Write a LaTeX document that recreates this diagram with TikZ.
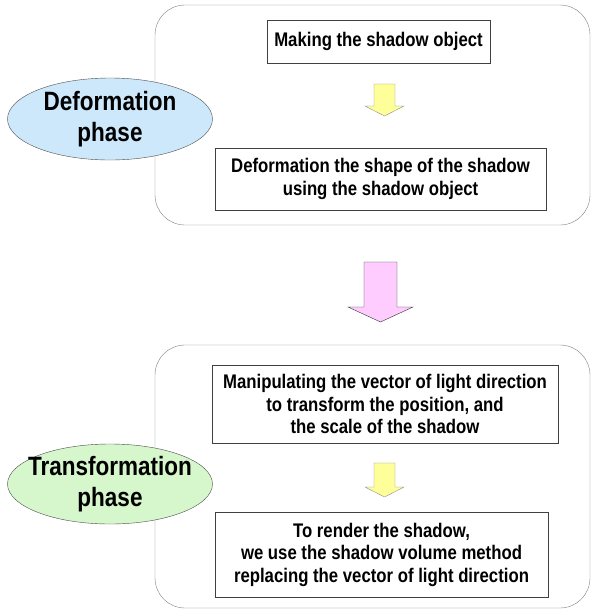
\documentclass[tikz,border=0pt]{standalone}
\usepackage{fontspec}
\setmainfont[FakeStretch=0.85]{Liberation Sans}
\usetikzlibrary{shapes.geometric}

\definecolor{phaseblue}{RGB}{204,232,250}
\definecolor{phasegreen}{RGB}{214,246,204}
\definecolor{stepyellow}{RGB}{255,255,153}
\definecolor{steppink}{RGB}{255,204,255}

\begin{document}
\begin{tikzpicture}[x=1pt,y=-1pt,
  frame/.style={draw=black!50,rounded corners=30pt},
  phase/.style={ellipse,draw=black!70,inner sep=0pt,minimum width=205pt},
  phasetext/.style={align=center,inner sep=0pt,
    font=\fontsize{26.5}{31}\selectfont\bfseries},
  stepbox/.style={draw=black!75,align=center,inner sep=0pt,
    font=\fontsize{19.7}{22.5}\selectfont\bfseries},
  smallarrow/.style={draw=black!45,fill=stepyellow},
  bigarrow/.style={draw=black!80,fill=steppink}]
  \useasboundingbox (0,0) rectangle (592,614);

  % deformation phase
  \draw[frame] (155,5) rectangle (590,225);
  \node[phase,fill=phaseblue,minimum height=82pt,
    label={[phasetext]center:Deformation\\phase}] (deform) at (110,119) {};
  \node[stepbox,minimum width=223pt,minimum height=43pt] (make) at (378.5,41.5) {Making the shadow object};
  \node[stepbox,minimum width=331pt,minimum height=62pt] (shape) at (380.5,179) {Deformation the shape of the shadow\\using the shadow object};
  \draw[smallarrow] (374,84) -- (395,84) -- (395,106) -- (404,106) -- (384.5,116) -- (365,106) -- (374,106) -- cycle;

  % between the phases
  \draw[bigarrow] (364,262) -- (397,262) -- (397,307) -- (413,307) -- (380.5,322) -- (348,307) -- (364,307) -- cycle;

  % transformation phase
  \draw[frame] (155,345) rectangle (590,608);
  \node[phase,fill=phasegreen,minimum height=80pt,
    label={[phasetext]center:Transformation\\phase}] (transform) at (110,484) {};
  \node[stepbox,minimum width=346pt,minimum height=78pt] (light) at (385,404) {Manipulating the vector of light direction\\to transform the position, and\\the scale of the shadow};
  \node[stepbox,minimum width=333pt,minimum height=85pt] (render) at (381.5,554.5) {To render the shadow,\\we use the shadow volume method\\replacing the vector of light direction};
  \draw[smallarrow] (374,463) -- (395,463) -- (395,487) -- (404,487) -- (384.5,497) -- (365,487) -- (374,487) -- cycle;
\end{tikzpicture}
\end{document}
